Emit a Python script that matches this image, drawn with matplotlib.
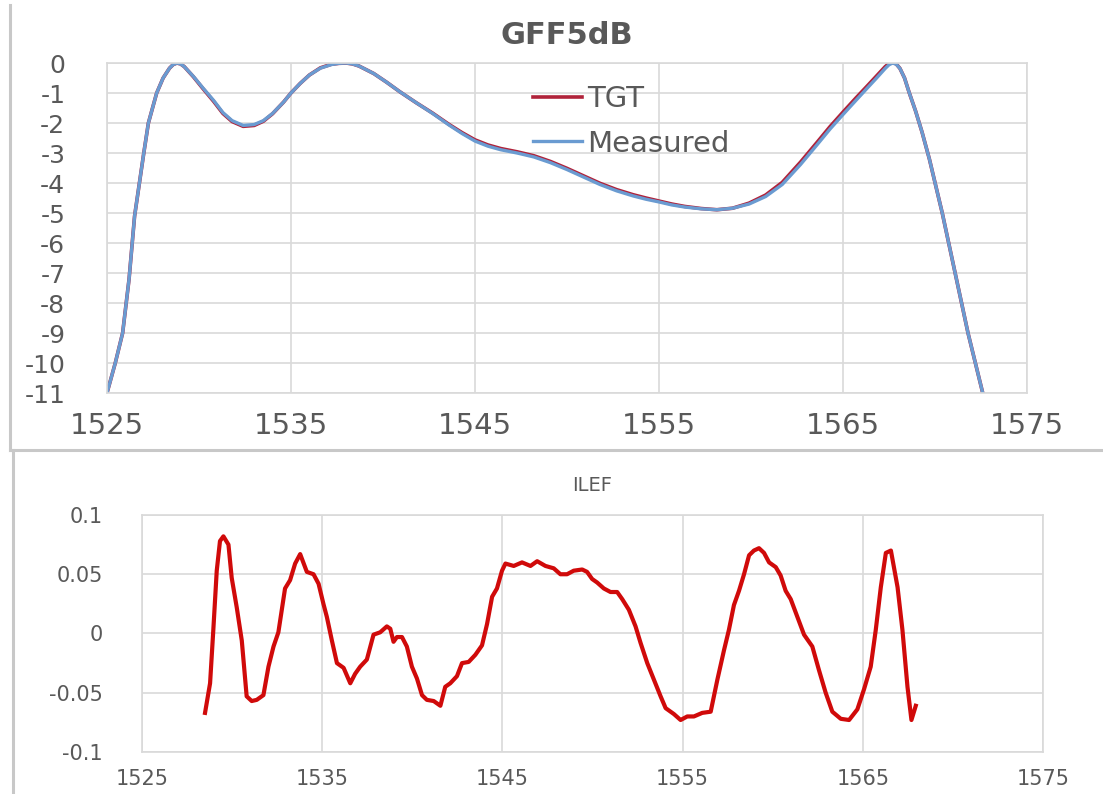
import matplotlib
matplotlib.use("Agg")
import matplotlib.pyplot as plt
from matplotlib.lines import Line2D

plt.rcParams['font.family'] = ['DejaVu Sans']
plt.rcParams['axes.unicode_minus'] = False

# GFF shape: wavelength (nm) vs attenuation (dB)
gff_wl = [1525.0, 1525.45, 1525.85, 1526.2, 1526.5, 1527.0, 1527.25, 1527.7,
          1528.05, 1528.4, 1528.6, 1528.8, 1529.0, 1529.2, 1529.7, 1530.2,
          1530.8, 1531.3, 1531.8, 1532.4, 1533.0, 1533.5, 1534.0, 1534.6,
          1535.0, 1535.5, 1536.0, 1536.6, 1537.2, 1537.6, 1538.0, 1538.35,
          1538.7, 1539.5, 1540.2, 1540.9, 1541.8, 1542.7, 1543.6, 1544.3,
          1545.0, 1545.7, 1546.4, 1547.3, 1548.2, 1549.1, 1550.0, 1550.9,
          1551.8, 1552.7, 1553.6, 1554.3, 1555.0, 1555.7, 1556.4, 1557.3,
          1558.15, 1559.0, 1559.9, 1560.8, 1561.7, 1562.7, 1563.6, 1564.3,
          1565.0, 1565.7, 1566.3, 1566.8, 1567.3, 1567.5, 1567.7, 1567.9,
          1568.1, 1568.35, 1568.6, 1568.95, 1569.3, 1569.7, 1570.05, 1570.4,
          1571.1, 1571.8, 1572.6]
measured = [-11.0, -10.0, -9.0, -7.2, -5.1, -3.0, -2.0, -1.0,
            -0.5, -0.17, -0.05, 0.0, -0.03, -0.12, -0.45, -0.82,
            -1.25, -1.65, -1.92, -2.08, -2.05, -1.92, -1.68, -1.3,
            -1.0, -0.68, -0.4, -0.17, -0.05, -0.01, 0.0, -0.03,
            -0.1, -0.35, -0.64, -0.95, -1.32, -1.68, -2.07, -2.35,
            -2.6, -2.77, -2.89, -3.0, -3.13, -3.32, -3.55, -3.8,
            -4.05, -4.26, -4.43, -4.54, -4.63, -4.73, -4.8, -4.86,
            -4.89, -4.84, -4.7, -4.45, -4.05, -3.38, -2.72, -2.2,
            -1.72, -1.25, -0.85, -0.52, -0.18, -0.06, 0.0, -0.04,
            -0.18, -0.5, -0.98, -1.6, -2.3, -3.2, -4.1, -5.0,
            -7.0, -9.0, -11.0]
tgt = [-11.0, -10.0, -9.0, -7.2, -5.1, -3.0, -2.0, -1.0,
       -0.5, -0.17, -0.05, 0.0, -0.03, -0.12, -0.46, -0.84,
       -1.28, -1.68, -1.95, -2.11, -2.08, -1.94, -1.69, -1.3,
       -1.0, -0.68, -0.4, -0.16, -0.04, -0.01, 0.0, -0.03,
       -0.1, -0.35, -0.64, -0.95, -1.32, -1.67, -2.05, -2.32,
       -2.56, -2.73, -2.85, -2.96, -3.09, -3.28, -3.51, -3.76,
       -4.01, -4.22, -4.39, -4.5, -4.6, -4.7, -4.78, -4.85,
       -4.89, -4.84, -4.67, -4.4, -3.98, -3.3, -2.64, -2.12,
       -1.64, -1.17, -0.78, -0.45, -0.12, -0.02, 0.02, -0.03,
       -0.18, -0.5, -0.98, -1.6, -2.3, -3.2, -4.1, -5.0,
       -7.0, -9.0, -11.0]

# ILEF: wavelength (nm) vs insertion loss error (dB)
ilef_wl = [1528.5, 1528.78, 1528.96, 1529.15, 1529.33, 1529.52, 1529.8, 1529.98,
           1530.26, 1530.54, 1530.81, 1531.09, 1531.37, 1531.74, 1532.02, 1532.3,
           1532.57, 1532.94, 1533.22, 1533.5, 1533.78, 1534.15, 1534.52, 1534.8,
           1535.07, 1535.26, 1535.54, 1535.82, 1536.19, 1536.56, 1536.83, 1537.11,
           1537.48, 1537.85, 1538.22, 1538.59, 1538.78, 1538.96, 1539.15, 1539.43,
           1539.7, 1539.98, 1540.26, 1540.54, 1540.81, 1541.19, 1541.56, 1541.83,
           1542.11, 1542.48, 1542.76, 1543.13, 1543.5, 1543.87, 1544.15, 1544.43,
           1544.7, 1544.98, 1545.17, 1545.63, 1546.09, 1546.56, 1546.93, 1547.39,
           1547.85, 1548.22, 1548.59, 1548.96, 1549.43, 1549.7, 1549.98, 1550.26,
           1550.63, 1551.0, 1551.37, 1551.65, 1552.02, 1552.39, 1552.67, 1553.04,
           1553.41, 1553.78, 1554.06, 1554.52, 1554.89, 1555.26, 1555.63, 1556.09,
           1556.56, 1556.93, 1557.3, 1557.57, 1557.85, 1558.13, 1558.41, 1558.69,
           1558.96, 1559.24, 1559.52, 1559.8, 1560.17, 1560.44, 1560.72, 1561.0,
           1561.37, 1561.74, 1562.2, 1562.57, 1562.94, 1563.31, 1563.78, 1564.24,
           1564.7, 1565.07, 1565.44, 1565.72, 1566.0, 1566.28, 1566.56, 1566.93,
           1567.2, 1567.48, 1567.7, 1567.94]
ilef = [-0.067, -0.042, 0.003, 0.053, 0.078, 0.082, 0.075, 0.047,
        0.022, -0.006, -0.053, -0.057, -0.056, -0.052, -0.028, -0.011,
        0.001, 0.038, 0.045, 0.059, 0.067, 0.052, 0.050, 0.042,
        0.025, 0.014, -0.006, -0.025, -0.029, -0.042, -0.034, -0.028,
        -0.022, -0.001, 0.001, 0.006, 0.004, -0.007, -0.003, -0.003,
        -0.011, -0.028, -0.038, -0.052, -0.056, -0.057, -0.061, -0.045,
        -0.042, -0.036, -0.025, -0.024, -0.018, -0.010, 0.008, 0.031,
        0.038, 0.053, 0.059, 0.057, 0.060, 0.057, 0.061, 0.057,
        0.055, 0.050, 0.050, 0.053, 0.054, 0.052, 0.046, 0.043,
        0.038, 0.035, 0.035, 0.029, 0.020, 0.006, -0.008, -0.025,
        -0.039, -0.053, -0.063, -0.068, -0.073, -0.070, -0.070, -0.067,
        -0.066, -0.039, -0.014, 0.003, 0.024, 0.036, 0.050, 0.066,
        0.070, 0.072, 0.068, 0.060, 0.056, 0.049, 0.036, 0.029,
        0.014, -0.001, -0.011, -0.031, -0.050, -0.066, -0.072, -0.073,
        -0.064, -0.047, -0.028, 0.003, 0.039, 0.068, 0.070, 0.039,
        0.003, -0.045, -0.073, -0.061]

top_yticks = list(range(0, -12, -1))
bottom_yticks = [0.1, 0.05, 0, -0.05, -0.1]
bottom_ylabels = ['0.1', '0.05', '0', '-0.05', '-0.1']
xticks = [1525, 1535, 1545, 1555, 1565, 1575]

grid_c = '#D9D9D9'
text_c = '#595959'

fig = plt.figure(figsize=(11.03, 7.94), dpi=100)


def style_axes(ax):
    ax.grid(True, color=grid_c, linewidth=1.2)
    ax.set_axisbelow(True)
    for s in ax.spines.values():
        s.set_color(grid_c)
        s.set_linewidth(1.2)
    ax.tick_params(length=0, colors=text_c)


# upper chart: GFF target vs measured
ax1 = fig.add_axes([0.097, 0.505, 0.834, 0.4156])
ax1.plot(gff_wl, tgt, color='#B0223A', linewidth=2.6, label='TGT')
ax1.plot(gff_wl, measured, color='#6A9BD1', linewidth=2.4, label='Measured')
ax1.set_xlim(1525, 1575)
ax1.set_ylim(-11, 0)
ax1.set_xticks(xticks)
ax1.set_yticks(top_yticks)
style_axes(ax1)
ax1.tick_params(axis='x', labelsize=21, pad=14)
ax1.tick_params(axis='y', labelsize=18, pad=30)
ax1.set_title('GFF5dB', fontsize=22, fontweight='bold', color=text_c, pad=14)
ax1.legend(loc='upper left', bbox_to_anchor=(0.463, 0.932), frameon=False,
           fontsize=21, handlelength=1.7, handletextpad=0.15,
           labelspacing=0.55, borderpad=0, borderaxespad=0,
           labelcolor=text_c)

# lower chart: ILEF
ax2 = fig.add_axes([0.1287, 0.0529, 0.8169, 0.2985])
ax2.plot(ilef_wl, ilef, color='#D00A0A', linewidth=3.0)
ax2.set_xlim(1525, 1575)
ax2.set_ylim(-0.1, 0.1)
ax2.set_xticks(xticks)
ax2.set_yticks(bottom_yticks)
ax2.set_yticklabels(bottom_ylabels)
style_axes(ax2)
ax2.tick_params(axis='x', labelsize=15, pad=12)
ax2.tick_params(axis='y', labelsize=15, pad=28)
ax2.set_title('ILEF', fontsize=14, color=text_c, pad=17)

# chart borders between the two panels
W, H = 1103, 794
border = dict(color='#C8C8C8', linewidth=2.2, transform=fig.transFigure)
fig.add_artist(Line2D([10 / W, 10 / W], [1 - 5 / H, 1 - 450 / H], **border))
fig.add_artist(Line2D([10 / W, 1.0], [1 - 450 / H, 1 - 450 / H], **border))
fig.add_artist(Line2D([13 / W, 13 / W], [1 - 450 / H, 0.0], **border))

fig.savefig('out.png', dpi=100)
